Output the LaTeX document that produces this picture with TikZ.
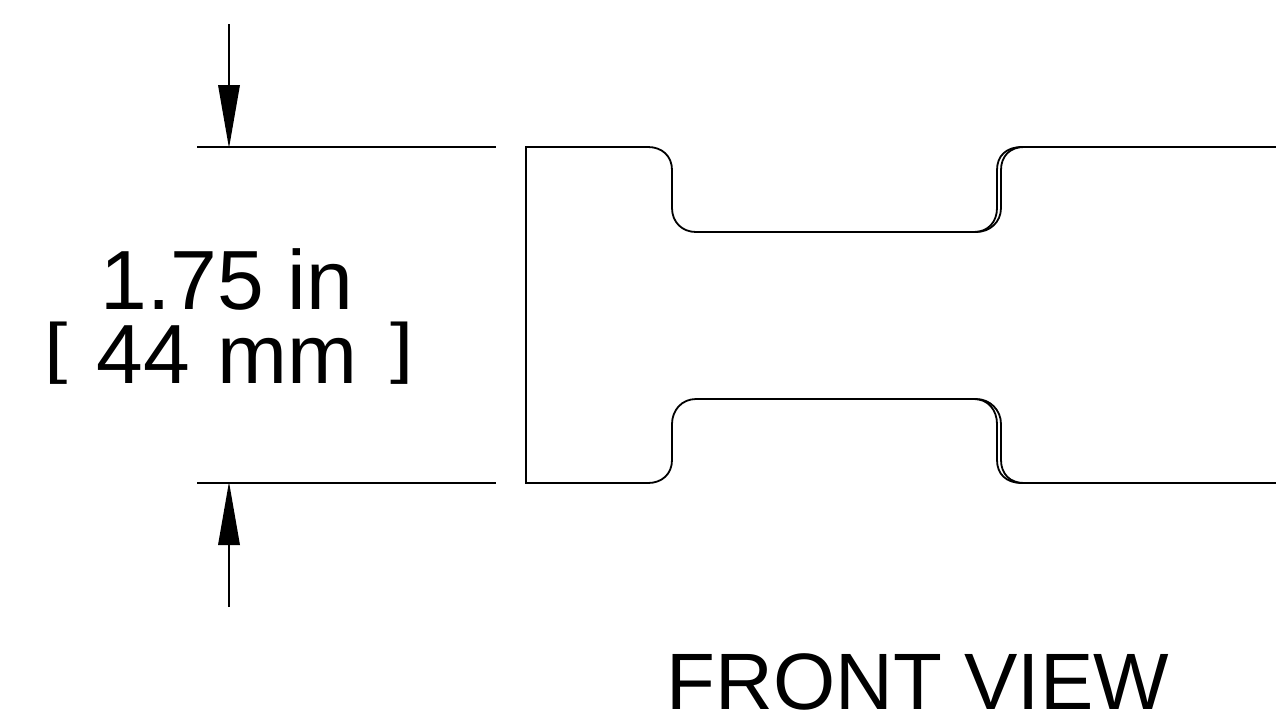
\documentclass[tikz,border=0pt]{standalone}
\usepackage{fontspec}
\setmainfont{Liberation Sans}
\tikzset{
  edge line/.style={line width=2.2pt,black,line cap=butt},
  thin edge/.style={line width=1.8pt,black},
  head/.style={fill=black,draw=none},
  big text/.style={inner sep=0pt,outer sep=0pt,anchor=base,font=\fontsize{84}{84}\selectfont},
  view text/.style={inner sep=0pt,outer sep=0pt,anchor=base,font=\fontsize{80}{80}\selectfont},
  bracket text/.style={inner sep=0pt,outer sep=0pt,anchor=base,font=\fontsize{67}{67}\selectfont}
}
\begin{document}
\begin{tikzpicture}[x=1pt,y=-1pt]
\useasboundingbox (0,0) rectangle (1276,721);
% extension lines
\coordinate (e1a) at (197,147); \coordinate (e1b) at (496,147);
\coordinate (e2a) at (197,483); \coordinate (e2b) at (496,483);
\draw[edge line] (e1a) -- (e1b);
\draw[edge line] (e2a) -- (e2b);
% arrows
\coordinate (a1s) at (229,24); \coordinate (a1t) at (229,148);
\coordinate (a2s) at (229,607); \coordinate (a2t) at (229,482);
\draw[edge line] (a1s) -- (229,85);
\draw[edge line] (a2s) -- (229,545);
\fill[head] (a1t) -- (218,85) -- (240,85) -- cycle;
\fill[head] (a2t) -- (218,545) -- (240,545) -- cycle;
% profile
\draw[thin edge,line join=miter]
 (1276,147) -- (1024,147)
 .. controls (1010,147) and (1001,156) .. (1001,170)
 -- (1001,208) .. controls (1001,222) and (990,232) .. (976,232)
 -- (696,232) .. controls (682,232) and (672,222) .. (672,208)
 -- (672,170) .. controls (672,156) and (662,147) .. (648,147)
 -- (526,147) -- (526,483) -- (648,483)
 .. controls (662,483) and (672,474) .. (672,460)
 -- (672,424) .. controls (672,410) and (682,399) .. (696,399)
 -- (976,399) .. controls (990,399) and (1001,410) .. (1001,424)
 -- (1001,460) .. controls (1001,474) and (1010,483) .. (1024,483)
 -- (1276,483);
\draw[thin edge]
 (1022,147) .. controls (1006,147) and (997,156) .. (997,170)
 -- (997,208) .. controls (997,222) and (988,232) .. (974,232);
\draw[thin edge]
 (974,399) .. controls (988,399) and (997,410) .. (997,424)
 -- (997,460) .. controls (997,474) and (1006,483) .. (1022,483);
% text
\node[big text] (t1) at (227,309) {1.75 in};
\node[big text] (t2) at (227,383) {44\hspace{4pt} mm};
\node[bracket text] (bl) at (56,370) {\scalebox{1.25}[1]{[}};
\node[bracket text] (br) at (402,370) {\scalebox{1.25}[1]{]}};
\node[view text] (t3) at (918,709) {FRONT VIEW};
\end{tikzpicture}
\end{document}
